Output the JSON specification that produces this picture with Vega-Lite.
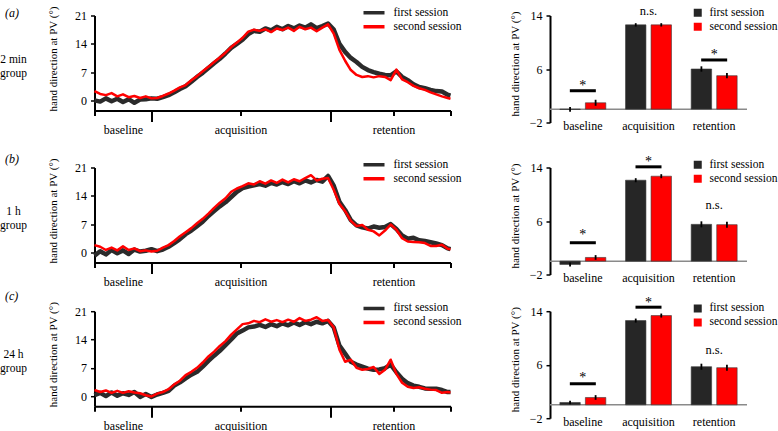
{
"$schema": "https://vega.github.io/schema/vega-lite/v6.json",
"padding": {"left": 0, "top": 4.5, "right": 0, "bottom": 0},
"config": {"view": {"stroke": null}, "font": "Liberation Serif",
  "axis": {"labelFont": "Liberation Serif", "titleFont": "Liberation Serif", "labelColor": "#000", "titleColor": "#000", "domainColor": "#000", "tickColor": "#000", "titleFontWeight": "normal", "grid": false},
  "legend": {"labelFont": "Liberation Serif", "labelColor": "#000"},
  "title": {"font": "Liberation Serif", "fontSize": 12, "fontStyle": "italic", "fontWeight": "normal", "color": "#000", "anchor": "start", "orient": "top", "dx": 5},
  "text": {"font": "Liberation Serif", "color": "#000"}},
"datasets": {
"lines": [
{"t":0,"a1":0.0,"a2":2.3,"b1":-0.8,"b2":1.8,"c1":0.2,"c2":1.5},
{"t":4,"a1":-0.3,"a2":1.6,"b1":0.3,"b2":1.4,"c1":0.8,"c2":1.0},
{"t":8,"a1":0.5,"a2":1.3,"b1":-0.5,"b2":0.6,"c1":0.0,"c2":1.4},
{"t":12,"a1":-0.2,"a2":1.8,"b1":0.6,"b2":1.2,"c1":0.9,"c2":0.8},
{"t":16,"a1":0.4,"a2":1.0,"b1":-0.2,"b2":0.5,"c1":0.1,"c2":1.3},
{"t":20,"a1":-0.4,"a2":1.5,"b1":0.5,"b2":1.5,"c1":0.7,"c2":0.8},
{"t":24,"a1":0.3,"a2":0.8,"b1":-0.4,"b2":0.6,"c1":0.3,"c2":1.2},
{"t":28,"a1":-0.6,"a2":1.1,"b1":0.7,"b2":1.0,"c1":1.0,"c2":0.9},
{"t":32,"a1":0.2,"a2":0.6,"b1":0.2,"b2":0.3,"c1":-0.2,"c2":0.7},
{"t":36,"a1":0.3,"a2":1.0,"b1":0.4,"b2":0.5,"c1":0.5,"c2":0.2},
{"t":40,"a1":0.5,"a2":0.5,"b1":0.8,"b2":0.2,"c1":-0.2,"c2":-0.1},
{"t":44,"a1":0.4,"a2":0.6,"b1":0.3,"b2":0.4,"c1":0.4,"c2":0.6},
{"t":48,"a1":0.8,"a2":1.1,"b1":0.7,"b2":1.2,"c1":0.8,"c2":1.0},
{"t":52,"a1":1.3,"a2":1.7,"b1":1.4,"b2":1.8,"c1":1.3,"c2":1.7},
{"t":56,"a1":2.0,"a2":2.4,"b1":2.3,"b2":2.8,"c1":2.6,"c2":2.9},
{"t":60,"a1":2.8,"a2":3.2,"b1":3.3,"b2":4.0,"c1":3.4,"c2":3.8},
{"t":64,"a1":3.5,"a2":3.8,"b1":4.5,"b2":5.0,"c1":4.4,"c2":5.2},
{"t":68,"a1":4.6,"a2":5.0,"b1":5.4,"b2":6.0,"c1":5.3,"c2":6.0},
{"t":72,"a1":5.8,"a2":6.0,"b1":6.5,"b2":7.2,"c1":6.0,"c2":7.0},
{"t":76,"a1":6.8,"a2":7.2,"b1":7.6,"b2":8.3,"c1":7.3,"c2":8.3},
{"t":80,"a1":8.0,"a2":8.3,"b1":9.0,"b2":9.6,"c1":8.7,"c2":9.8},
{"t":84,"a1":9.2,"a2":9.5,"b1":10.2,"b2":11.0,"c1":10.0,"c2":11.0},
{"t":88,"a1":10.3,"a2":10.6,"b1":11.4,"b2":12.3,"c1":11.2,"c2":12.4},
{"t":92,"a1":11.6,"a2":11.8,"b1":12.4,"b2":13.4,"c1":12.6,"c2":13.6},
{"t":96,"a1":13.0,"a2":13.2,"b1":13.7,"b2":15.0,"c1":14.0,"c2":15.2},
{"t":100,"a1":14.0,"a2":14.3,"b1":15.0,"b2":15.8,"c1":15.5,"c2":16.5},
{"t":104,"a1":15.0,"a2":15.5,"b1":15.9,"b2":16.4,"c1":16.2,"c2":17.8},
{"t":108,"a1":16.4,"a2":17.0,"b1":16.3,"b2":17.1,"c1":17.0,"c2":18.0},
{"t":112,"a1":17.2,"a2":17.5,"b1":16.6,"b2":16.8,"c1":17.2,"c2":18.6},
{"t":116,"a1":17.0,"a2":17.2,"b1":16.9,"b2":17.6,"c1":17.6,"c2":18.3},
{"t":120,"a1":17.8,"a2":17.6,"b1":16.5,"b2":17.0,"c1":17.1,"c2":19.0},
{"t":124,"a1":17.3,"a2":16.9,"b1":17.2,"b2":17.8,"c1":17.8,"c2":18.4},
{"t":128,"a1":18.2,"a2":17.8,"b1":16.8,"b2":17.2,"c1":17.3,"c2":18.8},
{"t":132,"a1":17.6,"a2":17.4,"b1":17.4,"b2":18.0,"c1":18.0,"c2":18.3},
{"t":136,"a1":18.4,"a2":18.0,"b1":16.9,"b2":17.3,"c1":17.5,"c2":18.9},
{"t":140,"a1":17.8,"a2":17.2,"b1":17.6,"b2":18.1,"c1":18.2,"c2":18.4},
{"t":144,"a1":18.5,"a2":18.2,"b1":17.1,"b2":17.6,"c1":17.6,"c2":19.3},
{"t":148,"a1":18.0,"a2":17.6,"b1":17.8,"b2":18.4,"c1":18.3,"c2":18.6},
{"t":152,"a1":18.8,"a2":18.0,"b1":17.3,"b2":19.1,"c1":17.8,"c2":18.9},
{"t":156,"a1":17.9,"a2":17.1,"b1":17.9,"b2":17.8,"c1":18.4,"c2":19.5},
{"t":160,"a1":18.4,"a2":18.0,"b1":17.5,"b2":18.2,"c1":18.0,"c2":18.6},
{"t":164,"a1":19.0,"a2":18.8,"b1":18.9,"b2":18.4,"c1":18.6,"c2":18.8},
{"t":168,"a1":17.5,"a2":16.5,"b1":16.5,"b2":15.5,"c1":17.0,"c2":17.0},
{"t":172,"a1":14.0,"a2":12.5,"b1":12.5,"b2":12.0,"c1":12.5,"c2":11.5},
{"t":176,"a1":12.0,"a2":9.8,"b1":10.5,"b2":10.2,"c1":10.5,"c2":8.5},
{"t":180,"a1":10.5,"a2":7.5,"b1":8.0,"b2":7.8,"c1":8.5,"c2":9.0},
{"t":184,"a1":9.5,"a2":6.3,"b1":6.7,"b2":6.5,"c1":7.8,"c2":7.0},
{"t":188,"a1":8.3,"a2":5.8,"b1":6.2,"b2":6.8,"c1":7.3,"c2":6.5},
{"t":192,"a1":7.5,"a2":6.0,"b1":5.9,"b2":5.6,"c1":6.8,"c2":6.7},
{"t":196,"a1":7.0,"a2":5.7,"b1":6.4,"b2":5.2,"c1":6.5,"c2":7.2},
{"t":200,"a1":6.6,"a2":6.0,"b1":6.1,"b2":4.2,"c1":6.6,"c2":5.5},
{"t":204,"a1":6.3,"a2":5.8,"b1":6.3,"b2":5.4,"c1":6.9,"c2":6.5},
{"t":208,"a1":6.2,"a2":5.0,"b1":7.0,"b2":6.9,"c1":7.8,"c2":9.0},
{"t":212,"a1":7.2,"a2":7.6,"b1":5.8,"b2":5.6,"c1":5.9,"c2":5.5},
{"t":216,"a1":5.8,"a2":5.2,"b1":4.2,"b2":3.5,"c1":4.3,"c2":3.3},
{"t":220,"a1":5.0,"a2":4.5,"b1":3.4,"b2":2.7,"c1":3.2,"c2":2.3},
{"t":224,"a1":4.0,"a2":3.6,"b1":3.6,"b2":2.6,"c1":2.6,"c2":2.0},
{"t":228,"a1":3.3,"a2":3.0,"b1":3.0,"b2":2.5,"c1":2.3,"c2":2.2},
{"t":232,"a1":3.0,"a2":2.6,"b1":2.8,"b2":2.3,"c1":1.9,"c2":1.8},
{"t":236,"a1":2.6,"a2":2.0,"b1":2.5,"b2":1.6,"c1":1.8,"c2":1.6},
{"t":240,"a1":2.3,"a2":1.5,"b1":2.2,"b2":1.6,"c1":1.8,"c2":1.5},
{"t":244,"a1":2.2,"a2":1.0,"b1":1.8,"b2":1.9,"c1":1.5,"c2":0.8},
{"t":248,"a1":1.4,"a2":0.6,"b1":1.0,"b2":0.9,"c1":1.0,"c2":1.0},
{"t":250,"a1":1.2,"a2":0.4,"b1":0.8,"b2":0.8,"c1":1.0,"c2":0.9}
],
"bars": [
{"row":"a","phase":"baseline","session":"first session","mean":-0.05,"lo":-0.4,"hi":0.3},
{"row":"a","phase":"baseline","session":"second session","mean":0.95,"lo":0.5,"hi":1.4},
{"row":"a","phase":"acquisition","session":"first session","mean":12.6,"lo":12.35,"hi":12.85},
{"row":"a","phase":"acquisition","session":"second session","mean":12.6,"lo":12.35,"hi":12.85},
{"row":"a","phase":"retention","session":"first session","mean":6.0,"lo":5.6,"hi":6.4},
{"row":"a","phase":"retention","session":"second session","mean":5.0,"lo":4.6,"hi":5.4},
{"row":"b","phase":"baseline","session":"first session","mean":-0.5,"lo":-0.8,"hi":-0.2},
{"row":"b","phase":"baseline","session":"second session","mean":0.55,"lo":0.2,"hi":0.9},
{"row":"b","phase":"acquisition","session":"first session","mean":12.1,"lo":11.8,"hi":12.4},
{"row":"b","phase":"acquisition","session":"second session","mean":12.7,"lo":12.4,"hi":13.0},
{"row":"b","phase":"retention","session":"first session","mean":5.5,"lo":5.05,"hi":5.95},
{"row":"b","phase":"retention","session":"second session","mean":5.45,"lo":5.0,"hi":5.9},
{"row":"c","phase":"baseline","session":"first session","mean":0.35,"lo":0.1,"hi":0.6},
{"row":"c","phase":"baseline","session":"second session","mean":1.1,"lo":0.75,"hi":1.45},
{"row":"c","phase":"acquisition","session":"first session","mean":12.6,"lo":12.3,"hi":12.9},
{"row":"c","phase":"acquisition","session":"second session","mean":13.35,"lo":13.05,"hi":13.65},
{"row":"c","phase":"retention","session":"first session","mean":5.7,"lo":5.25,"hi":6.15},
{"row":"c","phase":"retention","session":"second session","mean":5.55,"lo":5.1,"hi":6.0}
],
"sig": [
{"row":"a","phase":"baseline","label":"*","ybar":2.75,"ytext":2.9},
{"row":"a","phase":"acquisition","label":"n.s.","ybar":null,"ytext":14.1},
{"row":"a","phase":"retention","label":"*","ybar":7.35,"ytext":7.5},
{"row":"b","phase":"baseline","label":"*","ybar":2.75,"ytext":3.35},
{"row":"b","phase":"acquisition","label":"*","ybar":14.1,"ytext":14.15},
{"row":"b","phase":"retention","label":"n.s.","ybar":null,"ytext":7.8},
{"row":"c","phase":"baseline","label":"*","ybar":3.15,"ytext":3.47},
{"row":"c","phase":"acquisition","label":"*","ybar":14.6,"ytext":14.6},
{"row":"c","phase":"retention","label":"n.s.","ybar":null,"ytext":7.6}
],
"labels": [
{"row":"a","group":"2 min\ngroup"},
{"row":"b","group":"1 h\ngroup"},
{"row":"c","group":"24 h\ngroup"}
]
},
"resolve": {"scale": {"x": "independent", "y": "independent", "color": "independent", "xOffset": "independent"}},
"spacing": 11,
"vconcat": [
{"title": {"text": "(a)", "offset": -15},
 "hconcat": [
 {"hconcat": [
  {"width": 27, "height": 95, "data": {"name": "labels"}, "transform": [{"filter": "datum.row == 'a'"}],
   "mark": {"type": "text", "fontSize": 11.5, "lineBreak": "\n", "lineHeight": 14, "dy": -3.5, "color": "#000"}, "encoding": {"text": {"field": "group"}}},
  {"width": 356, "height": 95,
  "encoding": {
   "x": {"field": "t", "type": "quantitative", "scale": {"domain": [0, 250], "nice": false, "zero": false}, "axis": {"title": null, "values": [0, 20, 40, 102.5, 166, 210, 250], "labelExpr": "datum.value == 20 ? 'baseline' : datum.value == 102.5 ? 'acquisition' : datum.value == 210 ? 'retention' : ''", "tickSize": {"condition": {"test": "datum.value == 40 || datum.value == 166", "value": 11}, "value": 5}, "tickOpacity": {"condition": {"test": "datum.value == 20", "value": 0}, "value": 1}, "tickWidth": 2, "domainWidth": 2, "labelFontSize": 12, "labelPadding": 9, "labelOverlap": false, "labelFlush": false, "labelBound": false}},
   "y": {"field": "v", "type": "quantitative", "scale": {"domain": [-2.5, 21], "nice": false, "zero": false}, "axis": {"title": "hand direction at PV (°)", "values": [0, 7, 14, 21], "tickSize": 4, "tickWidth": 1.5, "domainWidth": 2, "labelFontSize": 12, "labelPadding": 4, "titleFontSize": 11, "titlePadding": 16, "titleY": 43}}
  },
  "layer": [
   {"data": {"name": "lines"}, "transform": [{"fold": ["a1"], "as": ["s", "v"]}], "mark": {"type": "line", "strokeWidth": 4.5, "strokeJoin": "round"},
    "encoding": {"color": {"field": "s", "type": "nominal", "scale": {"domain": ["a1", "a2"], "range": ["#2b2b2b", "#ff0000"]}, "legend": {"title": null, "orient": "none", "legendX": 267, "legendY": -9.5, "labelExpr": "indexof(datum.value, '1') >= 0 ? 'first session' : 'second session'", "symbolType": "stroke", "symbolSize": 441, "symbolStrokeWidth": 3.5, "labelFontSize": 11.5, "labelOffset": 7, "padding": 0, "clipHeight": 13.5, "rowPadding": 0}}}},
   {"data": {"name": "lines"}, "transform": [{"fold": ["a2"], "as": ["s", "v"]}], "mark": {"type": "line", "strokeWidth": 2.5, "strokeJoin": "round"},
    "encoding": {"color": {"field": "s", "type": "nominal"}}}
  ]}
 ], "spacing": 20.5,
 "resolve": {"scale": {"x": "independent", "y": "independent", "color": "independent"}}},
 {"width": 197, "height": 107,
  "layer": [
   {"data": {"values": [{}]}, "mark": {"type": "rule", "color": "#8a8a8a", "strokeWidth": 1.5}, "encoding": {"y": {"datum": 0, "type": "quantitative"}}},
   {"data": {"name": "bars"}, "transform": [{"filter": "datum.row == 'a'"}], "mark": {"type": "bar", "stroke": "#3a3a3a", "strokeWidth": 0.6},
    "encoding": {
     "x": {"field": "phase", "type": "nominal", "scale": {"domain": ["baseline", "acquisition", "retention"], "paddingInner": 0.3, "paddingOuter": 0.15}, "axis": {"title": null, "domain": false, "ticks": false, "labelAngle": 0, "labelFontSize": 12, "labelPadding": -2}},
     "xOffset": {"field": "session", "type": "nominal", "scale": {"domain": ["first session", "second session"], "paddingInner": 0.2}},
     "y": {"field": "mean", "type": "quantitative", "scale": {"domain": [-2, 14], "nice": false, "zero": false}, "axis": {"title": "hand direction at PV (°)", "values": [-2, 6, 14], "tickSize": 4, "tickWidth": 1.5, "domainWidth": 2, "labelFontSize": 12, "labelPadding": 4, "titleFontSize": 11, "titlePadding": 9, "titleY": 48}},
     "color": {"field": "session", "type": "nominal", "scale": {"domain": ["first session", "second session"], "range": ["#262626", "#ff0000"]}, "legend": {"title": null, "orient": "none", "legendX": 142, "legendY": -9.5, "symbolType": "square", "symbolSize": 64, "symbolStrokeWidth": 0, "labelFontSize": 11.5, "labelOffset": 6, "padding": 0, "clipHeight": 13.5, "rowPadding": 0}}
    }},
   {"data": {"name": "bars"}, "transform": [{"filter": "datum.row == 'a'"}], "mark": {"type": "rule", "color": "#000", "strokeWidth": 1.8},
    "encoding": {"x": {"field": "phase", "type": "nominal"}, "xOffset": {"field": "session", "type": "nominal"}, "y": {"field": "lo", "type": "quantitative"}, "y2": {"field": "hi"}}},
   {"data": {"name": "sig"}, "transform": [{"filter": "datum.row == 'a' && datum.ybar != null"}], "mark": {"type": "tick", "orient": "horizontal", "size": 26, "thickness": 3, "color": "#000", "opacity": 1},
    "encoding": {"x": {"field": "phase", "type": "nominal"}, "y": {"field": "ybar", "type": "quantitative"}}},
   {"data": {"name": "sig"}, "transform": [{"filter": "datum.row == 'a'"}], "mark": {"type": "text", "baseline": "alphabetic", "color": "#000"},
    "encoding": {"x": {"field": "phase", "type": "nominal"}, "y": {"field": "ytext", "type": "quantitative"}, "text": {"field": "label"}, "size": {"condition": {"test": "datum.label == '*'", "value": 14}, "value": 12.5}}}
  ]}
 ],
 "spacing": 46,
 "resolve": {"scale": {"x": "independent", "y": "independent", "color": "independent", "xOffset": "independent"}}
},
{"vconcat": [
{"title": {"text": "(b)", "offset": -11},
 "hconcat": [
 {"hconcat": [
  {"width": 27, "height": 95, "data": {"name": "labels"}, "transform": [{"filter": "datum.row == 'b'"}],
   "mark": {"type": "text", "fontSize": 11.5, "lineBreak": "\n", "lineHeight": 14, "dy": -3.5, "color": "#000"}, "encoding": {"text": {"field": "group"}}},
  {"width": 356, "height": 95,
  "encoding": {
   "x": {"field": "t", "type": "quantitative", "scale": {"domain": [0, 250], "nice": false, "zero": false}, "axis": {"title": null, "values": [0, 20, 40, 102.5, 166, 210, 250], "labelExpr": "datum.value == 20 ? 'baseline' : datum.value == 102.5 ? 'acquisition' : datum.value == 210 ? 'retention' : ''", "tickSize": {"condition": {"test": "datum.value == 40 || datum.value == 166", "value": 11}, "value": 5}, "tickOpacity": {"condition": {"test": "datum.value == 20", "value": 0}, "value": 1}, "tickWidth": 2, "domainWidth": 2, "labelFontSize": 12, "labelPadding": 9, "labelOverlap": false, "labelFlush": false, "labelBound": false}},
   "y": {"field": "v", "type": "quantitative", "scale": {"domain": [-2.5, 21], "nice": false, "zero": false}, "axis": {"title": "hand direction at PV (°)", "values": [0, 7, 14, 21], "tickSize": 4, "tickWidth": 1.5, "domainWidth": 2, "labelFontSize": 12, "labelPadding": 4, "titleFontSize": 11, "titlePadding": 16, "titleY": 43}}
  },
  "layer": [
   {"data": {"name": "lines"}, "transform": [{"fold": ["b1"], "as": ["s", "v"]}], "mark": {"type": "line", "strokeWidth": 4.5, "strokeJoin": "round"},
    "encoding": {"color": {"field": "s", "type": "nominal", "scale": {"domain": ["b1", "b2"], "range": ["#2b2b2b", "#ff0000"]}, "legend": {"title": null, "orient": "none", "legendX": 267, "legendY": -9.5, "labelExpr": "indexof(datum.value, '1') >= 0 ? 'first session' : 'second session'", "symbolType": "stroke", "symbolSize": 441, "symbolStrokeWidth": 3.5, "labelFontSize": 11.5, "labelOffset": 7, "padding": 0, "clipHeight": 13.5, "rowPadding": 0}}}},
   {"data": {"name": "lines"}, "transform": [{"fold": ["b2"], "as": ["s", "v"]}], "mark": {"type": "line", "strokeWidth": 2.5, "strokeJoin": "round"},
    "encoding": {"color": {"field": "s", "type": "nominal"}}}
  ]}
 ], "spacing": 20.5,
 "resolve": {"scale": {"x": "independent", "y": "independent", "color": "independent"}}},
 {"width": 197, "height": 107,
  "layer": [
   {"data": {"values": [{}]}, "mark": {"type": "rule", "color": "#8a8a8a", "strokeWidth": 1.5}, "encoding": {"y": {"datum": 0, "type": "quantitative"}}},
   {"data": {"name": "bars"}, "transform": [{"filter": "datum.row == 'b'"}], "mark": {"type": "bar", "stroke": "#3a3a3a", "strokeWidth": 0.6},
    "encoding": {
     "x": {"field": "phase", "type": "nominal", "scale": {"domain": ["baseline", "acquisition", "retention"], "paddingInner": 0.3, "paddingOuter": 0.15}, "axis": {"title": null, "domain": false, "ticks": false, "labelAngle": 0, "labelFontSize": 12, "labelPadding": -2}},
     "xOffset": {"field": "session", "type": "nominal", "scale": {"domain": ["first session", "second session"], "paddingInner": 0.2}},
     "y": {"field": "mean", "type": "quantitative", "scale": {"domain": [-2, 14], "nice": false, "zero": false}, "axis": {"title": "hand direction at PV (°)", "values": [-2, 6, 14], "tickSize": 4, "tickWidth": 1.5, "domainWidth": 2, "labelFontSize": 12, "labelPadding": 4, "titleFontSize": 11, "titlePadding": 9, "titleY": 48}},
     "color": {"field": "session", "type": "nominal", "scale": {"domain": ["first session", "second session"], "range": ["#262626", "#ff0000"]}, "legend": {"title": null, "orient": "none", "legendX": 142, "legendY": -9.5, "symbolType": "square", "symbolSize": 64, "symbolStrokeWidth": 0, "labelFontSize": 11.5, "labelOffset": 6, "padding": 0, "clipHeight": 13.5, "rowPadding": 0}}
    }},
   {"data": {"name": "bars"}, "transform": [{"filter": "datum.row == 'b'"}], "mark": {"type": "rule", "color": "#000", "strokeWidth": 1.8},
    "encoding": {"x": {"field": "phase", "type": "nominal"}, "xOffset": {"field": "session", "type": "nominal"}, "y": {"field": "lo", "type": "quantitative"}, "y2": {"field": "hi"}}},
   {"data": {"name": "sig"}, "transform": [{"filter": "datum.row == 'b' && datum.ybar != null"}], "mark": {"type": "tick", "orient": "horizontal", "size": 26, "thickness": 3, "color": "#000", "opacity": 1},
    "encoding": {"x": {"field": "phase", "type": "nominal"}, "y": {"field": "ybar", "type": "quantitative"}}},
   {"data": {"name": "sig"}, "transform": [{"filter": "datum.row == 'b'"}], "mark": {"type": "text", "baseline": "alphabetic", "color": "#000"},
    "encoding": {"x": {"field": "phase", "type": "nominal"}, "y": {"field": "ytext", "type": "quantitative"}, "text": {"field": "label"}, "size": {"condition": {"test": "datum.label == '*'", "value": 14}, "value": 12.5}}}
  ]}
 ],
 "spacing": 46,
 "resolve": {"scale": {"x": "independent", "y": "independent", "color": "independent", "xOffset": "independent"}}
},
{"title": {"text": "(c)", "offset": -6.7},
 "hconcat": [
 {"hconcat": [
  {"width": 27, "height": 95, "data": {"name": "labels"}, "transform": [{"filter": "datum.row == 'c'"}],
   "mark": {"type": "text", "fontSize": 11.5, "lineBreak": "\n", "lineHeight": 14, "dy": -3.5, "color": "#000"}, "encoding": {"text": {"field": "group"}}},
  {"width": 356, "height": 95,
  "encoding": {
   "x": {"field": "t", "type": "quantitative", "scale": {"domain": [0, 250], "nice": false, "zero": false}, "axis": {"title": null, "values": [0, 20, 40, 102.5, 166, 210, 250], "labelExpr": "datum.value == 20 ? 'baseline' : datum.value == 102.5 ? 'acquisition' : datum.value == 210 ? 'retention' : ''", "tickSize": {"condition": {"test": "datum.value == 40 || datum.value == 166", "value": 11}, "value": 5}, "tickOpacity": {"condition": {"test": "datum.value == 20", "value": 0}, "value": 1}, "tickWidth": 2, "domainWidth": 2, "labelFontSize": 12, "labelPadding": 9, "labelOverlap": false, "labelFlush": false, "labelBound": false}},
   "y": {"field": "v", "type": "quantitative", "scale": {"domain": [-2.5, 21], "nice": false, "zero": false}, "axis": {"title": "hand direction at PV (°)", "values": [0, 7, 14, 21], "tickSize": 4, "tickWidth": 1.5, "domainWidth": 2, "labelFontSize": 12, "labelPadding": 4, "titleFontSize": 11, "titlePadding": 16, "titleY": 43}}
  },
  "layer": [
   {"data": {"name": "lines"}, "transform": [{"fold": ["c1"], "as": ["s", "v"]}], "mark": {"type": "line", "strokeWidth": 4.5, "strokeJoin": "round"},
    "encoding": {"color": {"field": "s", "type": "nominal", "scale": {"domain": ["c1", "c2"], "range": ["#2b2b2b", "#ff0000"]}, "legend": {"title": null, "orient": "none", "legendX": 267, "legendY": -9.5, "labelExpr": "indexof(datum.value, '1') >= 0 ? 'first session' : 'second session'", "symbolType": "stroke", "symbolSize": 441, "symbolStrokeWidth": 3.5, "labelFontSize": 11.5, "labelOffset": 7, "padding": 0, "clipHeight": 13.5, "rowPadding": 0}}}},
   {"data": {"name": "lines"}, "transform": [{"fold": ["c2"], "as": ["s", "v"]}], "mark": {"type": "line", "strokeWidth": 2.5, "strokeJoin": "round"},
    "encoding": {"color": {"field": "s", "type": "nominal"}}}
  ]}
 ], "spacing": 20.5,
 "resolve": {"scale": {"x": "independent", "y": "independent", "color": "independent"}}},
 {"width": 197, "height": 107,
  "layer": [
   {"data": {"values": [{}]}, "mark": {"type": "rule", "color": "#8a8a8a", "strokeWidth": 1.5}, "encoding": {"y": {"datum": 0, "type": "quantitative"}}},
   {"data": {"name": "bars"}, "transform": [{"filter": "datum.row == 'c'"}], "mark": {"type": "bar", "stroke": "#3a3a3a", "strokeWidth": 0.6},
    "encoding": {
     "x": {"field": "phase", "type": "nominal", "scale": {"domain": ["baseline", "acquisition", "retention"], "paddingInner": 0.3, "paddingOuter": 0.15}, "axis": {"title": null, "domain": false, "ticks": false, "labelAngle": 0, "labelFontSize": 12, "labelPadding": -2}},
     "xOffset": {"field": "session", "type": "nominal", "scale": {"domain": ["first session", "second session"], "paddingInner": 0.2}},
     "y": {"field": "mean", "type": "quantitative", "scale": {"domain": [-2, 14], "nice": false, "zero": false}, "axis": {"title": "hand direction at PV (°)", "values": [-2, 6, 14], "tickSize": 4, "tickWidth": 1.5, "domainWidth": 2, "labelFontSize": 12, "labelPadding": 4, "titleFontSize": 11, "titlePadding": 9, "titleY": 48}},
     "color": {"field": "session", "type": "nominal", "scale": {"domain": ["first session", "second session"], "range": ["#262626", "#ff0000"]}, "legend": {"title": null, "orient": "none", "legendX": 142, "legendY": -9.5, "symbolType": "square", "symbolSize": 64, "symbolStrokeWidth": 0, "labelFontSize": 11.5, "labelOffset": 6, "padding": 0, "clipHeight": 13.5, "rowPadding": 0}}
    }},
   {"data": {"name": "bars"}, "transform": [{"filter": "datum.row == 'c'"}], "mark": {"type": "rule", "color": "#000", "strokeWidth": 1.8},
    "encoding": {"x": {"field": "phase", "type": "nominal"}, "xOffset": {"field": "session", "type": "nominal"}, "y": {"field": "lo", "type": "quantitative"}, "y2": {"field": "hi"}}},
   {"data": {"name": "sig"}, "transform": [{"filter": "datum.row == 'c' && datum.ybar != null"}], "mark": {"type": "tick", "orient": "horizontal", "size": 26, "thickness": 3, "color": "#000", "opacity": 1},
    "encoding": {"x": {"field": "phase", "type": "nominal"}, "y": {"field": "ybar", "type": "quantitative"}}},
   {"data": {"name": "sig"}, "transform": [{"filter": "datum.row == 'c'"}], "mark": {"type": "text", "baseline": "alphabetic", "color": "#000"},
    "encoding": {"x": {"field": "phase", "type": "nominal"}, "y": {"field": "ytext", "type": "quantitative"}, "text": {"field": "label"}, "size": {"condition": {"test": "datum.label == '*'", "value": 14}, "value": 12.5}}}
  ]}
 ],
 "spacing": 46,
 "resolve": {"scale": {"x": "independent", "y": "independent", "color": "independent", "xOffset": "independent"}}
}
], "spacing": -4.3,
 "resolve": {"scale": {"x": "independent", "y": "independent", "color": "independent", "xOffset": "independent"}}
}
]
}
